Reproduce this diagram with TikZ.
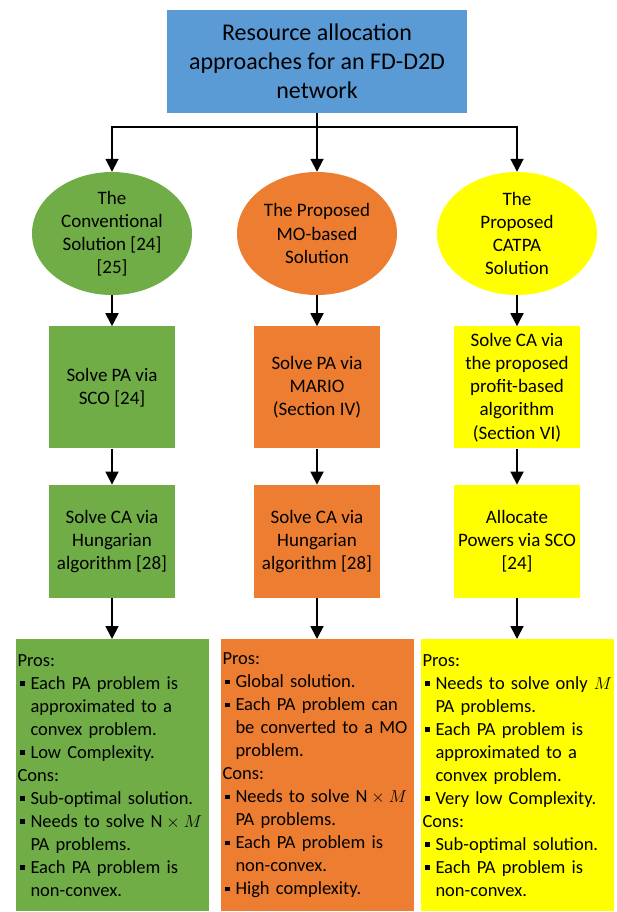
\documentclass[tikz,border=0pt]{standalone}
\usepackage{fontspec}
\setmainfont{Carlito}
\usetikzlibrary{positioning, arrows.meta, shapes.geometric}
\definecolor{rootblue}{HTML}{5B9BD5}
\definecolor{convgreen}{HTML}{70AD47}
\definecolor{moorange}{HTML}{ED7D31}
\definecolor{catyellow}{HTML}{FFFF00}
\newcommand{\bul}{\makebox[13pt][l]{\hspace{2.5pt}\rule[3.5pt]{4.5pt}{4.5pt}}}
\newcommand{\cont}{\hspace*{13pt}}

\begin{document}
\begin{tikzpicture}[
        x=1pt, y=-1pt,
        every node/.style={font=\fontsize{19pt}{23.2pt}\selectfont, inner sep=0pt},
        root/.style={rectangle, fill=rootblue, minimum width=300pt, minimum height=103pt, align=center, font=\fontsize{24pt}{29pt}\selectfont},
        branch/.style={ellipse, minimum width=160pt, minimum height=123pt, align=center},
        stepbox/.style={rectangle, minimum width=126pt, minimum height=122pt, align=center},
        notes/.style={rectangle, minimum height=272pt, text width=189pt, align=left, inner xsep=2pt, font=\fontsize{18.5pt}{23pt}\selectfont},
        arrow/.style={-{Triangle[width=13pt, length=13pt]}, line width=1.8pt}
    ]
        \useasboundingbox (0,0) rectangle (617,912);

        \node[root] (ra) at (317,61.5) {Resource allocation\\approaches for an FD-D2D\\network};
        \coordinate (split) at (317,127);

        \node[branch, fill=convgreen] (conv) at (112,233.5) {The\\Conventional\\Solution [24]\\{[25]}};
        \node[branch, fill=moorange] (mo) at (317,233.5) {The Proposed\\MO-based\\Solution};
        \node[branch, fill=catyellow] (cat) at (517,233.5) {The\\Proposed\\CATPA\\Solution};

        \node[stepbox, fill=convgreen, below=31pt of conv] (convpa) {Solve PA via\\SCO [24]};
        \node[stepbox, fill=moorange, below=31pt of mo] (mopa) {Solve PA via\\MARIO\\(Section IV)};
        \node[stepbox, fill=catyellow, below=31pt of cat] (catca) {Solve CA via\\the proposed\\profit-based\\algorithm\\(Section VI)};

        \node[stepbox, fill=convgreen, minimum height=113pt, below=36pt of convpa] (convca) {Solve CA via\\Hungarian\\algorithm [28]};
        \node[stepbox, fill=moorange, minimum height=113pt, below=36pt of mopa] (moca) {Solve CA via\\Hungarian\\algorithm [28]};
        \node[stepbox, fill=catyellow, minimum height=113pt, below=36pt of catca] (catpa) {Allocate\\Powers via SCO\\{[24]}};

        \node[notes, fill=convgreen, below=41pt of convca] (convnotes) {Pros:\\
            \bul Each PA problem is\\ \cont approximated to a\\ \cont convex problem.\\
            \bul Low Complexity.\\
            Cons:\\
            \bul Sub-optimal solution.\\
            \bul \mbox{Needs to solve $\mathrm{N}\times M$}\\ \cont PA problems.\\
            \bul Each PA problem is\\ \cont non-convex.};
        \node[notes, fill=moorange, below=41pt of moca] (monotes) {Pros:\\
            \bul Global solution.\\
            \bul Each PA problem can\\ \cont \mbox{be converted to a MO}\\ \cont problem.\\
            Cons:\\
            \bul \mbox{Needs to solve $\mathrm{N}\times M$}\\ \cont PA problems.\\
            \bul Each PA problem is\\ \cont non-convex.\\
            \bul High complexity.};
        \node[notes, fill=catyellow, below=41pt of catpa] (catnotes) {Pros:\\
            \bul \mbox{Needs to solve only $M$}\\ \cont PA problems.\\
            \bul Each PA problem is\\ \cont approximated to a\\ \cont convex problem.\\
            \bul Very low Complexity.\\
            Cons:\\
            \bul Sub-optimal solution.\\
            \bul Each PA problem is\\ \cont non-convex.};

        \draw[line width=1.8pt] (ra) -- (split);
        \draw[arrow] (split) -| (conv.north);
        \draw[arrow] (split) -- (mo);
        \draw[arrow] (split) -| (cat.north);
        \draw[arrow] (conv) -- (convpa);
        \draw[arrow] (mo) -- (mopa);
        \draw[arrow] (cat) -- (catca);
        \draw[arrow] (convpa) -- (convca);
        \draw[arrow] (mopa) -- (moca);
        \draw[arrow] (catca) -- (catpa);
        \draw[arrow] (convca) -- (convnotes);
        \draw[arrow] (moca) -- (monotes);
        \draw[arrow] (catpa) -- (catnotes);
    \end{tikzpicture}
\end{document}
